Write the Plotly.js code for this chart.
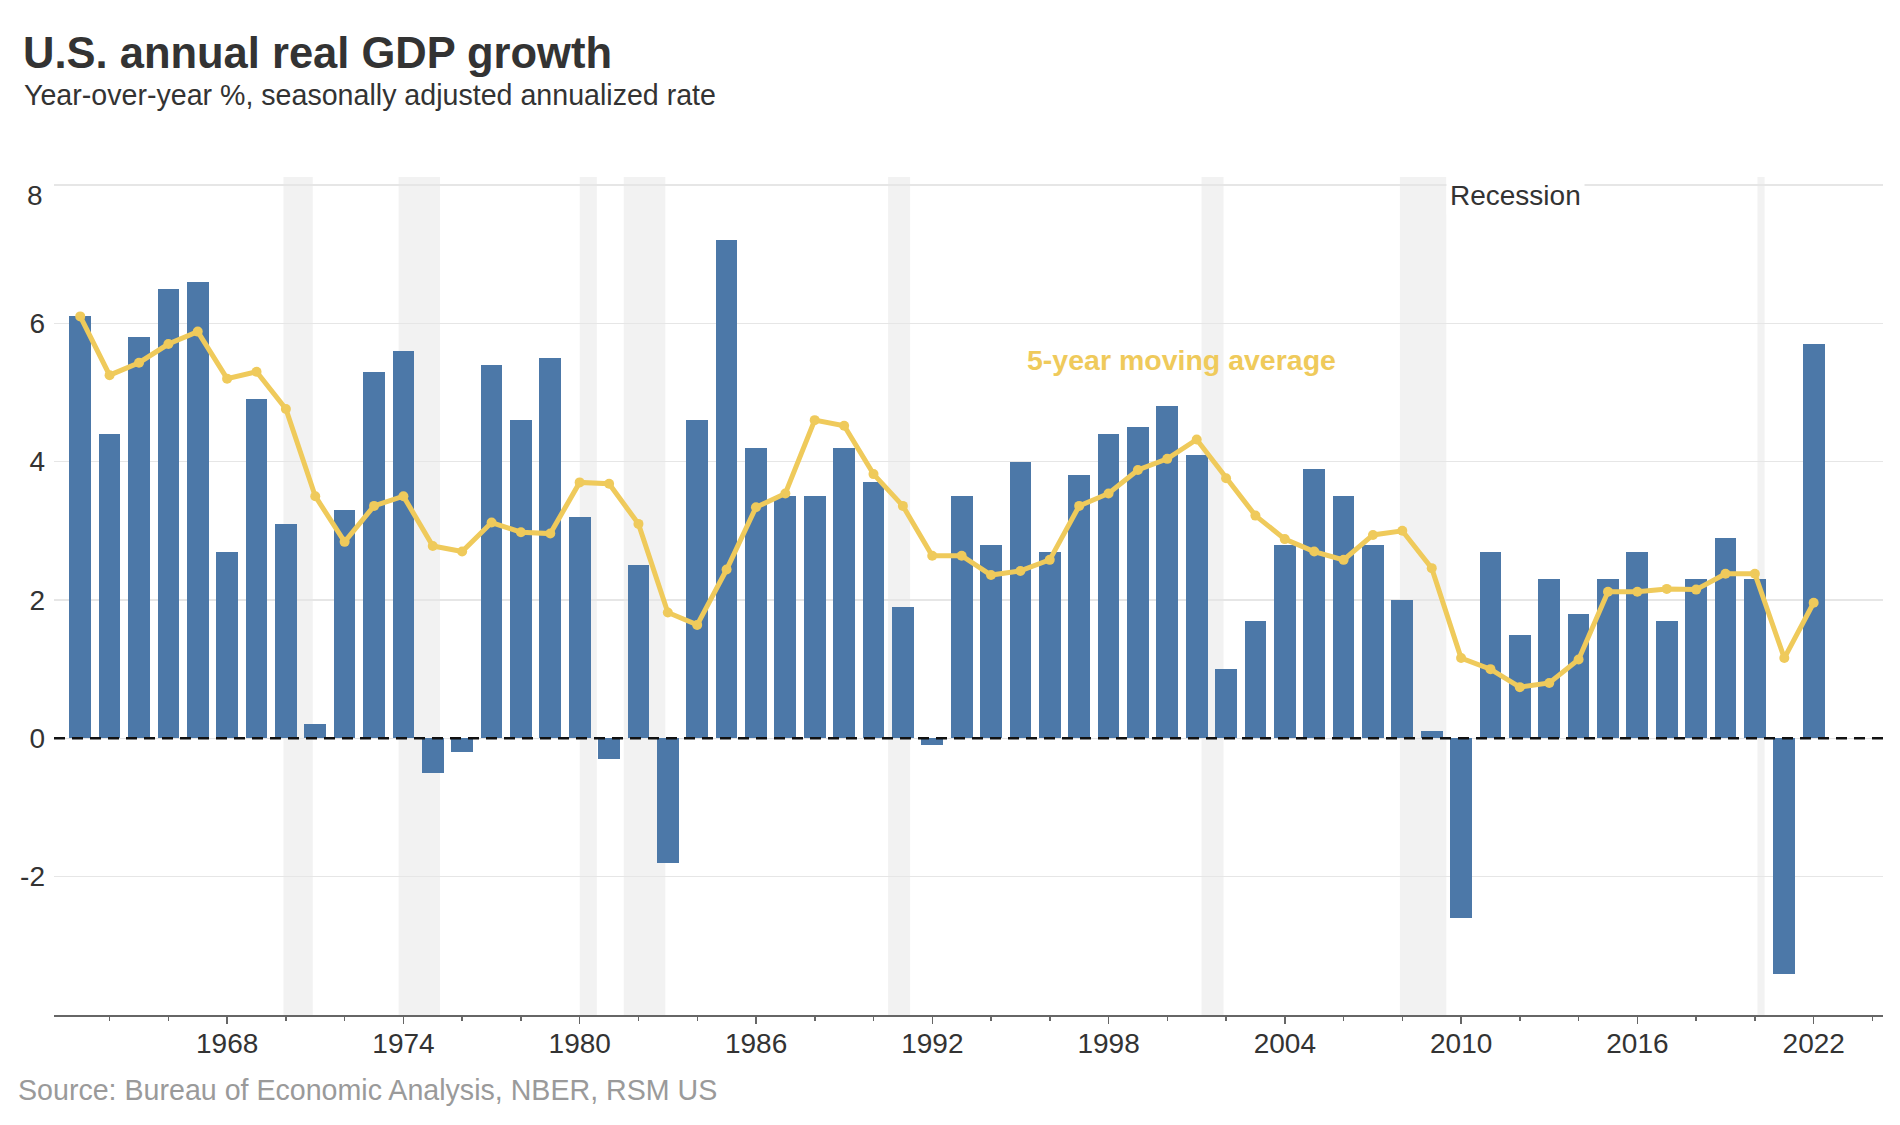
<!DOCTYPE html>
<html>
<head>
<meta charset="utf-8">
<script src="https://cdn.plot.ly/plotly-3.0.1.min.js"></script>
<style>
  html, body { margin: 0; padding: 0; background: #ffffff; }
  #chart { width: 1900px; height: 1125px; }
</style>
</head>
<body>
<div id="chart"></div>
<script>
// ---------------- DATA ----------------
const years = [1962,1963,1964,1965,1966,1967,1968,1969,1970,1971,
               1972,1973,1974,1975,1976,1977,1978,1979,1980,1981,
               1982,1983,1984,1985,1986,1987,1988,1989,1990,1991,
               1992,1993,1994,1995,1996,1997,1998,1999,2000,2001,
               2002,2003,2004,2005,2006,2007,2008,2009,2010,2011,
               2012,2013,2014,2015,2016,2017,2018,2019,2020,2021];

// Annual real GDP growth, %
const gdpGrowth = [6.1,4.4,5.8,6.5,6.6,2.7,4.9,3.1,0.2,3.3,
                   5.3,5.6,-0.5,-0.2,5.4,4.6,5.5,3.2,-0.3,2.5,
                   -1.8,4.6,7.2,4.2,3.5,3.5,4.2,3.7,1.9,-0.1,
                   3.5,2.8,4.0,2.7,3.8,4.4,4.5,4.8,4.1,1.0,
                   1.7,2.8,3.9,3.5,2.8,2.0,0.1,-2.6,2.7,1.5,
                   2.3,1.8,2.3,2.7,1.7,2.3,2.9,2.3,-3.4,5.7];

// 5-year moving average, %
const movingAvg = [6.10,5.25,5.43,5.70,5.88,5.20,5.30,4.76,3.50,2.84,
                   3.36,3.50,2.78,2.70,3.12,2.98,2.96,3.70,3.68,3.10,
                   1.82,1.64,2.44,3.34,3.54,4.60,4.52,3.82,3.36,2.64,
                   2.64,2.36,2.42,2.58,3.36,3.54,3.88,4.04,4.32,3.76,
                   3.22,2.88,2.70,2.58,2.94,3.00,2.46,1.16,1.00,0.74,
                   0.80,1.14,2.12,2.12,2.16,2.15,2.38,2.38,1.16,1.96];

// NBER recessions
const recessionStarts = ['1969-12-01','1973-11-01','1980-01-01','1981-07-01','1990-07-01','2001-03-01','2007-12-01','2020-02-01'];
const recessionEnds   = ['1970-11-30','1975-03-31','1980-07-31','1982-11-30','1991-03-31','2001-11-30','2009-06-30','2020-04-30'];

const yTickVals  = [-2, 0, 2, 4, 6, 8];
const yTickText  = ['-2', '0', '2', '4', '6', ''];

// ---------------- STYLE / LAYOUT HELPERS ----------------
const FONT = 'Liberation Sans, Arial, Helvetica, sans-serif';
const BAR_COLOR = '#4c78a8';
const LINE_COLOR = '#efca5b';
const M = { l: 54, r: 17, t: 177, b: 110 };
const W = 1900, H = 1125;
const PW = W - M.l - M.r, PH = H - M.t - M.b;
const px2x = px => (px - M.l) / PW;
const py2y = py => (H - M.b - py) / PH;

const barDates = years.map(y => y + '-12-31');
const YEAR_MS = 365.25 * 24 * 3600 * 1000;

const traces = [
  {
    type: 'bar',
    x: barDates,
    y: gdpGrowth,
    width: 0.74 * YEAR_MS,
    marker: { color: BAR_COLOR },
    hoverinfo: 'x+y',
    showlegend: false
  },
  {
    type: 'scatter',
    mode: 'lines+markers',
    x: barDates,
    y: movingAvg,
    line: { color: LINE_COLOR, width: 5 },
    marker: { color: LINE_COLOR, size: 10 },
    showlegend: false
  }
];

const shapes = recessionStarts.map((s, i) => ({
  type: 'rect', xref: 'x', yref: 'paper',
  x0: s, x1: recessionEnds[i], y0: 0, y1: 1,
  fillcolor: '#f2f2f2', line: { width: 0 }, layer: 'below'
}));
shapes.push({
  type: 'line', xref: 'paper', yref: 'y',
  x0: 0, x1: 1, y0: 0, y1: 0,
  line: { color: '#111111', width: 2.5, dash: '11px,7px' }, layer: 'above'
});

const annotations = [
  {
    text: 'Year-over-year %, seasonally adjusted annualized rate',
    xref: 'paper', yref: 'paper', x: px2x(21.5), y: py2y(94.5),
    xanchor: 'left', yanchor: 'middle', showarrow: false,
    font: { family: FONT, size: 28.6, color: '#333333' }
  },
  {
    text: 'Source: Bureau of Economic Analysis, NBER, RSM US',
    xref: 'paper', yref: 'paper', x: px2x(15.5), y: py2y(1089.5),
    xanchor: 'left', yanchor: 'middle', showarrow: false,
    font: { family: FONT, size: 28.6, color: '#9a9a9a' }
  },
  {
    text: 'Recession',
    xref: 'x', yref: 'y', x: '2009-06-30', y: 8, yshift: -11,
    xanchor: 'left', yanchor: 'middle', showarrow: false,
    bgcolor: '#ffffff', borderpad: 3,
    font: { family: FONT, size: 28, color: '#333333' }
  },
  {
    text: '<b>5-year moving average</b>',
    xref: 'x', yref: 'y', x: '2000-06-25', y: 5.47,
    xanchor: 'center', yanchor: 'middle', showarrow: false,
    font: { family: FONT, size: 28.5, color: LINE_COLOR }
  },
  {
    text: '8',
    xref: 'paper', yref: 'y', x: 0, xshift: -9, y: 8, yshift: -10.5,
    xanchor: 'right', yanchor: 'middle', showarrow: false,
    font: { family: FONT, size: 28, color: '#333333' }
  }
];

const layout = {
  width: W, height: H,
  margin: { l: M.l, r: M.r, t: M.t, b: M.b, pad: 0 },
  paper_bgcolor: '#ffffff',
  plot_bgcolor: 'rgba(0,0,0,0)',
  font: { family: FONT, color: '#333333' },
  title: {
    text: 'U.S. annual real GDP growth',
    xref: 'container', yref: 'container',
    x: 23 / W, xanchor: 'left',
    y: 1 - 52.5 / H, yanchor: 'middle',
    font: { family: FONT, size: 43.5, weight: 700, color: '#333333' }
  },
  bargap: 0,
  xaxis: {
    type: 'date',
    range: ['1962-02-08', '2024-05-11'],
    tick0: '1968-01-01', dtick: 'M72', tickformat: '%Y',
    ticks: 'outside', ticklen: 7, tickwidth: 1.5, tickcolor: '#666666',
    showline: true, linecolor: '#666666', linewidth: 1.5,
    showgrid: false, zeroline: false,
    ticklabelstandoff: -4,
    tickfont: { family: FONT, size: 28, color: '#333333' },
    minor: { tick0: '1968-01-01', dtick: 'M24', ticks: 'outside', ticklen: 4,
             tickwidth: 1.5, tickcolor: '#666666', showgrid: false },
    fixedrange: true
  },
  yaxis: {
    range: [-4, 8.115],
    tickvals: yTickVals, ticktext: yTickText,
    ticks: '', showline: false, zeroline: false,
    showgrid: true, gridcolor: '#e6e6e6', gridwidth: 1.5,
    tickfont: { family: FONT, size: 28, color: '#333333' },
    ticklabelstandoff: 8,
    fixedrange: true
  },
  shapes: shapes,
  annotations: annotations,
  showlegend: false
};

Plotly.newPlot('chart', traces, layout, { displayModeBar: false, staticPlot: true });
</script>
</body>
</html>
